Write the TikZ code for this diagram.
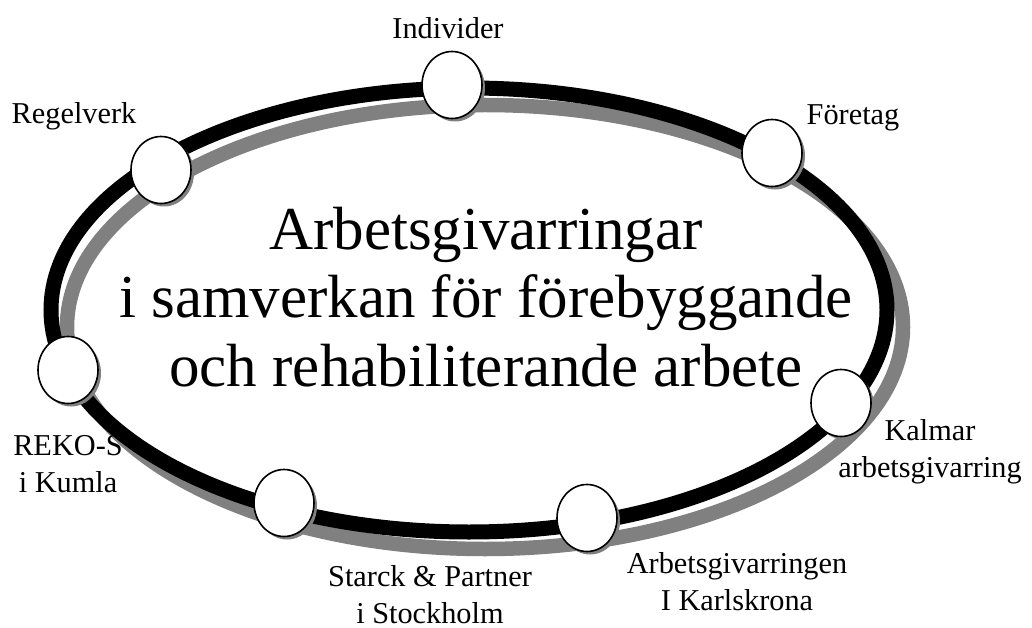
\documentclass[tikz,border=0pt]{standalone}
\usepackage{fontspec}
\setmainfont{Liberation Serif}
\usetikzlibrary{shapes.geometric,shadows}
\definecolor{ringgray}{gray}{0.5}

\begin{document}
\begin{tikzpicture}[x=1pt,y=-1pt,
    knot/.style={ellipse,draw,line width=1.6pt,fill=white,inner sep=0pt,
        minimum width=60pt,minimum height=67pt,
        drop shadow={shadow xshift=3pt,shadow yshift=-3pt,fill=ringgray,opacity=1}},
    member/.style={align=center,anchor=base,inner sep=0pt,
        font=\fontsize{30.3}{36.5}\selectfont},
    headline/.style={align=center,anchor=base,inner sep=0pt,
        font=\fontsize{61}{68.5}\selectfont}]
    \useasboundingbox (0,0) rectangle (1032,628);

    % The ring:
    % the gray shadow is the same ellipse, moved a bit right and down
    \draw [ringgray, line width=14.5pt] (485,327) ellipse [x radius=418, y radius=222];
    \draw [black, line width=15pt] (469,310) ellipse [x radius=418, y radius=222];

    % Text inside the ring (base = last line)
    \node [headline] (title) at (486,386)
        {Arbetsgivarringar\\i samverkan för förebyggande\\och rehabiliterande arbete};

    % Small circles sitting on the ring
    \foreach \name/\pos in {indiv/{452,85}, regel/{161,170}, foretag/{772,153},
        kalmar/{841,403}, karls/{587,518}, starck/{284,503}, reko/{68,370}}
        \node [knot] (\name) at (\pos) {};

    % Labels of the circles
    \node [member] (indivtext) at (448,39) {Individer};
    \node [member] (regeltext) at (74,124) {Regelverk};
    \node [member] (foretagtext) at (853,125) {Företag};
    \node [member] (kalmartext) at (930,477) {Kalmar\\arbetsgivarring};
    \node [member] (karlstext) at (737,610) {Arbetsgivarringen\\I Karlskrona};
    \node [member] (starcktext) at (430,623) {Starck \& Partner\\i Stockholm};
    \node [member] (rekotext) at (68,492) {REKO-S\\i Kumla};
\end{tikzpicture}
\end{document}
